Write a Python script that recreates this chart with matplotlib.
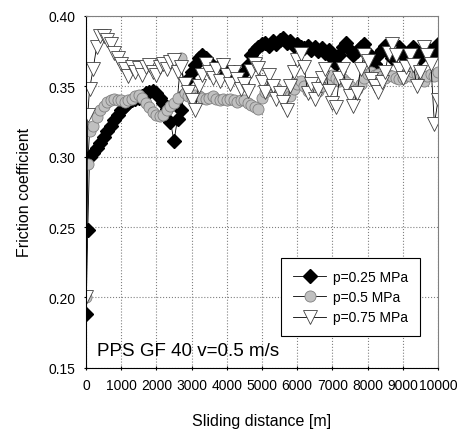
import matplotlib
matplotlib.use("Agg")
import matplotlib.pyplot as plt

plt.rcParams['font.family'] = ['Liberation Sans', 'DejaVu Sans']

# sliding distance [m]
distance = [0, 50] + list(range(100, 10001, 100))

# p = 0.25 MPa
mu_025 = [0.188, 0.248, 0.300, 0.303, 0.306, 0.310, 0.314, 0.318, 0.322, 0.326,
          0.330, 0.333, 0.336, 0.338, 0.340, 0.341, 0.342, 0.343, 0.345, 0.346,
          0.347, 0.345, 0.342, 0.338, 0.334, 0.325, 0.311, 0.327, 0.333, 0.345,
          0.355, 0.360, 0.365, 0.370, 0.372, 0.370, 0.367, 0.362, 0.360, 0.365,
          0.362, 0.358, 0.356, 0.360, 0.357, 0.355, 0.360, 0.365, 0.372, 0.376,
          0.378, 0.380, 0.381, 0.379, 0.382, 0.380, 0.383, 0.384, 0.381, 0.382,
          0.379, 0.380, 0.378, 0.377, 0.379, 0.376, 0.378, 0.375, 0.377, 0.374,
          0.376, 0.370, 0.366, 0.372, 0.378, 0.381, 0.376, 0.372, 0.375, 0.378,
          0.380, 0.374, 0.368, 0.366, 0.372, 0.376, 0.379, 0.374, 0.370, 0.375,
          0.378, 0.372, 0.368, 0.374, 0.378, 0.372, 0.370, 0.375, 0.377, 0.372,
          0.376, 0.380]

# p = 0.5 MPa
mu_05 = [0.200, 0.295, 0.318, 0.322, 0.328, 0.333, 0.336, 0.339, 0.340, 0.341,
         0.340, 0.340, 0.339, 0.340, 0.341, 0.343, 0.344, 0.342, 0.338, 0.335,
         0.332, 0.330, 0.329, 0.330, 0.333, 0.336, 0.338, 0.342, 0.370, 0.345,
         0.343, 0.342, 0.344, 0.343, 0.342, 0.341, 0.342, 0.343, 0.341, 0.340,
         0.341, 0.340, 0.341, 0.340, 0.339, 0.340, 0.340, 0.338, 0.337, 0.335,
         0.334, 0.342, 0.346, 0.348, 0.347, 0.349, 0.346, 0.344, 0.345, 0.343,
         0.348, 0.352, 0.354, 0.350, 0.347, 0.346, 0.348, 0.347, 0.350, 0.354,
         0.355, 0.358, 0.356, 0.354, 0.355, 0.353, 0.350, 0.346, 0.348, 0.352,
         0.356, 0.359, 0.360, 0.358, 0.359, 0.357, 0.356, 0.358, 0.357, 0.356,
         0.355, 0.356, 0.358, 0.357, 0.360, 0.359, 0.356, 0.354, 0.357, 0.359,
         0.357, 0.360]

# p = 0.75 MPa
mu_075 = [0.200, 0.330, 0.348, 0.362, 0.378, 0.386, 0.386, 0.383, 0.380, 0.374,
          0.370, 0.366, 0.362, 0.357, 0.364, 0.360, 0.363, 0.358, 0.364, 0.365,
          0.360, 0.358, 0.364, 0.366, 0.362, 0.367, 0.369, 0.360, 0.364, 0.352,
          0.346, 0.340, 0.333, 0.350, 0.358, 0.366, 0.360, 0.356, 0.362, 0.354,
          0.365, 0.358, 0.352, 0.360, 0.355, 0.348, 0.352, 0.347, 0.361, 0.366,
          0.363, 0.353, 0.346, 0.358, 0.350, 0.341, 0.345, 0.339, 0.333, 0.350,
          0.360, 0.369, 0.373, 0.364, 0.345, 0.352, 0.341, 0.348, 0.356, 0.362,
          0.347, 0.338, 0.335, 0.356, 0.362, 0.350, 0.343, 0.336, 0.345, 0.362,
          0.372, 0.368, 0.355, 0.350, 0.346, 0.353, 0.360, 0.374, 0.380, 0.372,
          0.362, 0.356, 0.364, 0.372, 0.365, 0.350, 0.360, 0.378, 0.372, 0.366,
          0.323, 0.340]

fig = plt.figure(figsize=(4.6, 4.35), dpi=100)
ax = fig.add_axes([0.187, 0.152, 0.765, 0.809])

ax.plot(distance, mu_025, color='black', linewidth=0.6, marker='D', markersize=7.5,
        markerfacecolor='black', markeredgecolor='black', label='p=0.25 MPa')
ax.plot(distance, mu_05, color='black', linewidth=0.6, marker='o', markersize=8,
        markerfacecolor='#c0c0c0', markeredgecolor='#808080', markeredgewidth=0.6,
        label='p=0.5 MPa')
ax.plot(distance, mu_075, color='black', linewidth=0.6, marker='v', markersize=10,
        markerfacecolor='white', markeredgecolor='#404040', markeredgewidth=0.6,
        label='p=0.75 MPa')

ax.set_xlim(0, 10000)
ax.set_ylim(0.15, 0.40)
ax.set_xticks(range(0, 10001, 1000))
ax.set_yticks([0.15, 0.20, 0.25, 0.30, 0.35, 0.40])
ax.set_yticklabels(['0.15', '0.20', '0.25', '0.30', '0.35', '0.40'])
ax.tick_params(labelsize=10, length=3, direction='inout', pad=6)
ax.grid(True, linestyle=':', color='#808080', linewidth=0.8)

for side in ['top', 'right']:
    ax.spines[side].set_color('#808080')

ax.set_xlabel('Sliding distance [m]', fontsize=11.5, labelpad=15)
ax.set_ylabel('Friction coefficient', fontsize=11.5, labelpad=12)

ax.text(0.03, 0.025, 'PPS GF 40 v=0.5 m/s', transform=ax.transAxes, fontsize=13.5,
        ha='left', va='bottom')

leg = ax.legend(loc='lower right', bbox_to_anchor=(0.95, 0.09), fontsize=10,
                fancybox=False, edgecolor='black', framealpha=1, handlelength=2.4,
                handletextpad=0.5, borderpad=0.85, labelspacing=0.45,
                borderaxespad=0)
leg.get_frame().set_linewidth(0.8)

fig.savefig('out.png', dpi=100)
